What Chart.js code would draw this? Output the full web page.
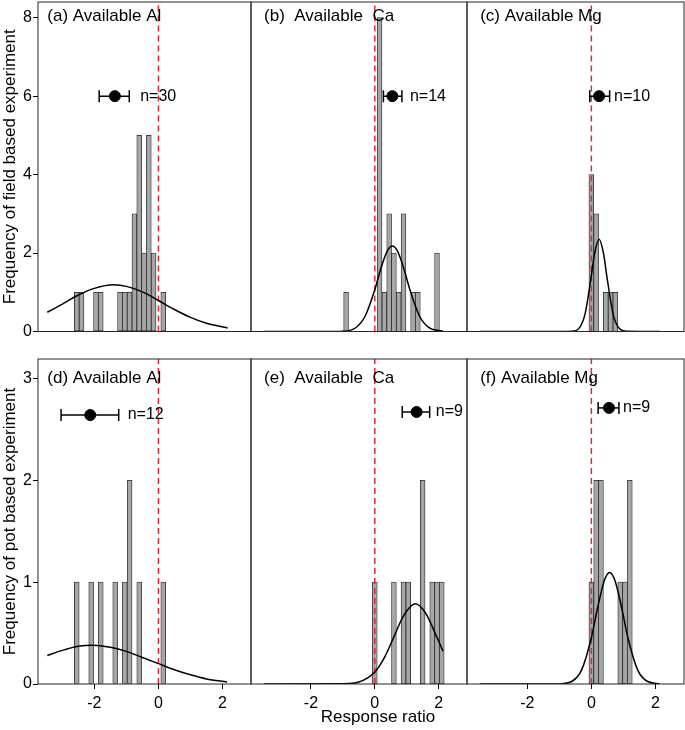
<!DOCTYPE html>
<html>
<head>
<meta charset="utf-8">
<script src="https://cdn.jsdelivr.net/npm/chart.js@4.4.1/dist/chart.umd.min.js"></script>
<style>
  html, body { margin: 0; padding: 0; background: #fff; }
  #wrap { position: relative; width: 685px; height: 730px; }
  #wrap canvas { position: absolute; left: 0; top: 0; }
</style>
</head>
<body>
<div id="wrap">
  <canvas id="p0" width="685" height="730"></canvas>
  <canvas id="p1" width="685" height="730"></canvas>
  <canvas id="p2" width="685" height="730"></canvas>
  <canvas id="p3" width="685" height="730"></canvas>
  <canvas id="p4" width="685" height="730"></canvas>
  <canvas id="p5" width="685" height="730"></canvas>
</div>
<script>
// Histogram bins (centres, width 0.15) and counts, one pair per panel
var binsA = [-2.55, -2.4, -1.95, -1.8, -1.2, -1.05, -0.9, -0.75, -0.6, -0.45, -0.3, -0.15, 0.15];
var countsA = [1, 1, 1, 1, 1, 1, 1, 3, 5, 2, 5, 2, 1];
var binsB = [-0.9, 0.15, 0.3, 0.45, 0.6, 0.75, 0.9, 1.2, 1.35, 1.95];
var countsB = [1, 8, 1, 3, 2, 1, 3, 1, 1, 2];
var binsC = [0, 0.15, 0.45, 0.6, 0.75];
var countsC = [4, 3, 1, 1, 1];
var binsD = [-2.55, -2.1, -1.8, -1.35, -1.05, -0.9, -0.6, 0.15];
var countsD = [1, 1, 1, 1, 1, 2, 1, 1];
var binsE = [0, 0.6, 0.9, 1.05, 1.5, 1.8, 1.95, 2.1];
var countsE = [1, 1, 1, 1, 2, 1, 1, 1];
var binsF = [0, 0.15, 0.3, 0.9, 1.05, 1.2];
var countsF = [1, 2, 2, 1, 1, 2];

// Fitted normal curves
var curveXA = [-3.47, -3, -2.5, -2, -1.4, -1, -0.5, 0, 0.5, 1, 1.5, 2.16];
var curveYA = [0.49, 0.70, 0.93, 1.10, 1.19, 1.15, 1.01, 0.79, 0.56, 0.36, 0.21, 0.09];
var curveXB = [-3.47, -2, -1.5, -1, -0.6, -0.3, 0, 0.2, 0.4, 0.55, 0.7, 0.9, 1.1, 1.4, 1.7, 2.14];
var curveYB = [0, 0, 0, 0.008, 0.096, 0.395, 1.066, 1.632, 2.067, 2.18, 2.067, 1.632, 1.066, 0.395, 0.096, 0.006];
var curveXC = [-3.47, -1, -0.6, -0.4, -0.2, 0, 0.1, 0.24, 0.38, 0.48, 0.68, 0.88, 1.08, 2.14];
var curveYC = [0, 0, 0.005, 0.067, 0.438, 1.425, 1.983, 2.35, 1.983, 1.425, 0.438, 0.067, 0.005, 0];
var curveXD = [-3.47, -3, -2.5, -2.05, -1.5, -1, -0.5, 0, 0.5, 1, 1.5, 2.14];
var curveYD = [0.28, 0.33, 0.37, 0.38, 0.36, 0.32, 0.26, 0.20, 0.14, 0.09, 0.05, 0.02];
var curveXE = [-3.47, -1, -0.5, 0, 0.3, 0.6, 0.9, 1.27, 1.6, 1.9, 2.14];
var curveYE = [0, 0.002, 0.019, 0.117, 0.259, 0.463, 0.669, 0.787, 0.692, 0.492, 0.321];
var curveXF = [-3.47, -1.5, -1, -0.6, -0.3, 0, 0.2, 0.4, 0.57, 0.74, 0.94, 1.14, 1.44, 1.74, 2.14];
var curveYF = [0, 0, 0.001, 0.027, 0.141, 0.454, 0.756, 1.012, 1.094, 1.012, 0.756, 0.454, 0.141, 0.027, 0.001];

// Mean response ratio with its interval, and where it sits vertically
var meanX = [-1.36, 0.55, 0.24, -2.13, 1.31, 0.55];
var ciLow = [-1.85, 0.27, -0.05, -3.04, 0.86, 0.21];
var ciHigh = [-0.91, 0.85, 0.57, -1.24, 1.72, 0.86];
var meanY = [6, 6, 6, 2.64, 2.67, 2.71];

var panelTitles = ['(a) Available Al', '(b)  Available  Ca', '(c) Available Mg',
                   '(d) Available Al', '(e)  Available  Ca', '(f) Available Mg'];
var nLabels = ['n=30', 'n=14', 'n=10', 'n=12', 'n=9', 'n=9'];

var xTicks = [-2, 0, 2];
var yTicksTop = [0, 2, 4, 6, 8];
var yTicksBottom = [0, 1, 2, 3];

/*---------------- layout ----------------*/
var W = 685, H = 730;
var colLeft = [38, 251, 467], colRight = [251, 467, 684];
var rowTop = [2, 359], rowBottom = [331.5, 684];
var xMin = [-3.76, -3.88, -3.88], xMax = 2.89;
var yMax = [8.4, 3.19];
var nLabelX = [-0.57, 1.10, 0.71, -0.96, 1.91, 0.99];
var FONT = '"Liberation Sans", Arial, Helvetica, sans-serif';

Chart.defaults.font.family = FONT;
Chart.defaults.color = '#000';
Chart.defaults.animation = false;

var bins = [binsA, binsB, binsC, binsD, binsE, binsF];
var counts = [countsA, countsB, countsC, countsD, countsE, countsF];
var curvesX = [curveXA, curveXB, curveXC, curveXD, curveXE, curveXF];
var curvesY = [curveYA, curveYB, curveYC, curveYD, curveYE, curveYF];

function zip(xs, ys) {
  return xs.map(function(x, i) { return { x: x, y: ys[i] }; });
}

// box, panel title, n label and common x title
var panelDecor = {
  id: 'panelDecor',
  afterDatasetsDraw: function(chart, args, opts) {
    var ctx = chart.ctx, a = chart.chartArea;
    var xs = chart.scales.x, ys = chart.scales.y;
    ctx.save();
    ctx.strokeStyle = '#262626';
    ctx.lineWidth = 1;
    ctx.strokeRect(a.left, a.top, a.right - a.left, a.bottom - a.top);
    ctx.fillStyle = '#000';
    ctx.textAlign = 'left';
    ctx.textBaseline = 'middle';
    ctx.font = '17px ' + FONT;
    ctx.fillText(opts.title, xs.getPixelForValue(-3.47), ys.getPixelForValue(opts.titleY));
    ctx.font = '16px ' + FONT;
    ctx.fillText(opts.n, xs.getPixelForValue(opts.nX), ys.getPixelForValue(opts.nY));
    if (opts.xTitle) {
      ctx.textAlign = 'center';
      ctx.font = '17px ' + FONT;
      ctx.fillText(opts.xTitle, opts.xTitleX, opts.xTitleY);
    }
    ctx.restore();
  }
};

function fixPadding(s) {
  s.paddingTop = 0;
  s.paddingBottom = 0;
  s.paddingLeft = 0;
  s.paddingRight = 0;
}

for (var i = 0; i < 6; i++) {
  var col = i % 3, row = Math.floor(i / 3);
  var ym = yMax[row];
  var yTicks = row === 0 ? yTicksTop : yTicksBottom;

  new Chart(document.getElementById('p' + i), {
    type: 'bar',
    data: {
      datasets: [{
        type: 'line',
        data: [{ x: meanX[i], y: meanY[i] }],
        showLine: false,
        pointRadius: 5.5,
        pointBackgroundColor: '#000',
        pointBorderColor: '#000',
        order: 0
      }, {
        type: 'line',
        data: [{ x: ciLow[i], y: meanY[i] }, { x: ciHigh[i], y: meanY[i] }],
        borderColor: '#000',
        borderWidth: 1.5,
        pointStyle: 'line',
        pointRotation: 90,
        pointRadius: 6,
        pointBorderWidth: 1.5,
        pointBorderColor: '#000',
        order: 1
      }, {
        type: 'line',
        data: zip(curvesX[i], curvesY[i]),
        borderColor: '#000',
        borderWidth: 1.5,
        pointRadius: 0,
        cubicInterpolationMode: 'monotone',
        order: 2
      }, {
        type: 'line',
        data: [{ x: 0, y: 0 }, { x: 0, y: ym }],
        borderColor: '#e0282e',
        borderWidth: 1.5,
        borderDash: [6, 4],
        pointRadius: 0,
        order: 3
      }, {
        type: 'bar',
        data: zip(bins[i], counts[i]),
        backgroundColor: '#a6a6a6',
        borderColor: '#262626',
        borderWidth: 0.8,
        borderSkipped: false,
        barPercentage: 1,
        categoryPercentage: 1,
        order: 4
      }]
    },
    options: {
      responsive: false,
      events: [],
      layout: {
        autoPadding: false,
        padding: {
          left: col === 0 ? 0 : colLeft[col],
          right: W - colRight[col],
          top: rowTop[row],
          bottom: row === 0 ? H - rowBottom[0] : 0
        }
      },
      plugins: {
        legend: { display: false },
        tooltip: { enabled: false },
        panelDecor: {
          title: panelTitles[i],
          titleY: row === 0 ? 8.03 : 3.0,
          n: nLabels[i],
          nX: nLabelX[i],
          nY: meanY[i],
          xTitle: i === 4 ? 'Response ratio' : null,
          xTitleX: 378,
          xTitleY: 717
        }
      },
      scales: {
        x: {
          type: 'linear',
          min: xMin[col],
          max: xMax,
          offset: false,
          display: row === 1,
          border: { display: false },
          grid: { display: true, drawOnChartArea: false, drawTicks: true, tickLength: 5, color: '#000', offset: false },
          ticks: {
            font: { size: 16 },
            padding: 5,
            maxRotation: 0,
            callback: function(v) { return String(v); }
          },
          afterBuildTicks: function(s) {
            s.ticks = xTicks.map(function(v) { return { value: v }; });
          },
          afterFit: function(s) {
            fixPadding(s);
            s.height = s.options.display ? H - rowBottom[1] : 0;
          }
        },
        y: {
          type: 'linear',
          min: 0,
          max: ym,
          display: col === 0,
          border: { display: false },
          grid: { display: true, drawOnChartArea: false, drawTicks: true, tickLength: 5, color: '#000' },
          ticks: {
            font: { size: 16 },
            padding: 1,
            callback: function(v) { return String(v); }
          },
          title: {
            display: true,
            text: row === 0 ? 'Frequency of field based experiment' : 'Frequency of pot based experiment',
            font: { size: 17 },
            padding: 0
          },
          afterBuildTicks: (function(t) {
            return function(s) { s.ticks = t.map(function(v) { return { value: v }; }); };
          })(yTicks),
          afterFit: function(s) {
            fixPadding(s);
            s.width = s.options.display ? colLeft[0] : 0;
          }
        }
      }
    },
    plugins: [panelDecor]
  });
}
</script>
</body>
</html>
